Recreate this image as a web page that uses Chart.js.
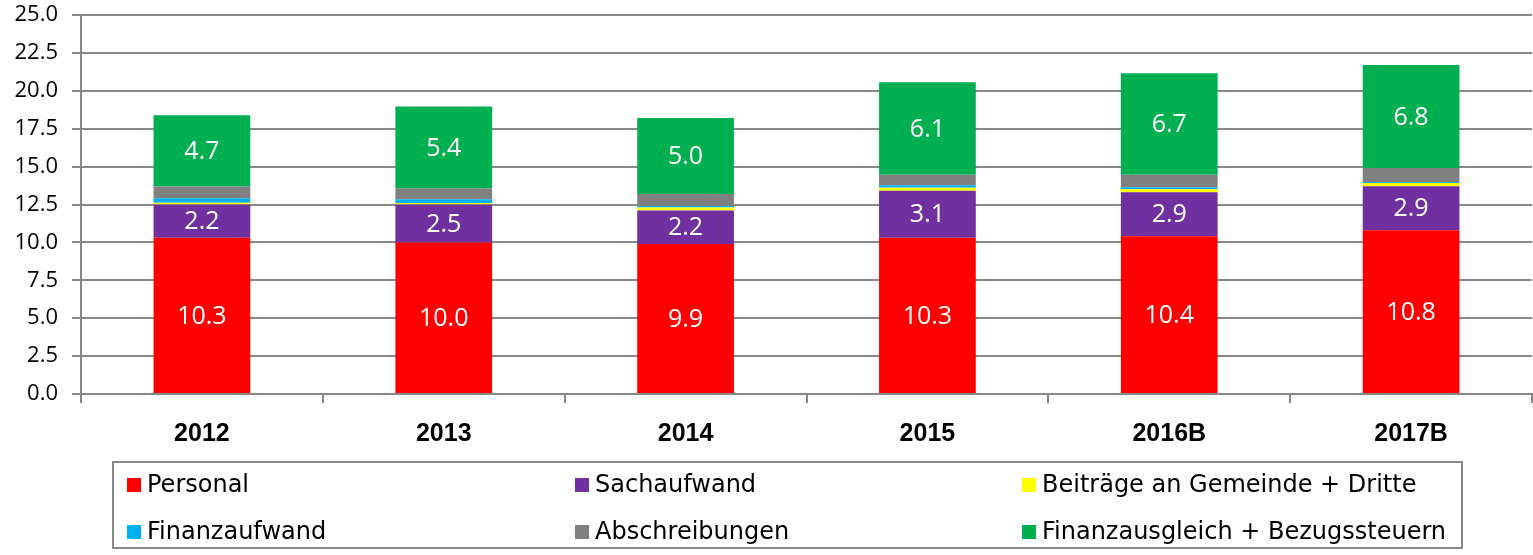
<!DOCTYPE html>
<html><head><meta charset="utf-8">
<script src="https://cdn.jsdelivr.net/npm/chart.js@4/dist/chart.umd.min.js"></script>
<style>html,body{margin:0;padding:0;background:#fff;}#wrap{width:1533px;height:555px;}</style>
</head><body><div id="wrap"><canvas id="c" width="1533" height="555"></canvas></div>
<script>
const categories = ['2012','2013','2014','2015','2016B','2017B'];
const personal = [10.3, 10.0, 9.9, 10.3, 10.4, 10.8];
const sachaufwand = [2.2, 2.5, 2.2, 3.1, 2.9, 2.9];
const beitraege = [0.12, 0.1, 0.2, 0.2, 0.2, 0.22];
const finanzaufwand = [0.3, 0.24, 0.1, 0.17, 0.13, 0.07];
const abschreibungen = [0.76, 0.72, 0.8, 0.7, 0.83, 0.92];
const finanzausgleich = [4.7, 5.4, 5.0, 6.1, 6.7, 6.8];
const yTicks = [0, 2.5, 5, 7.5, 10, 12.5, 15, 17.5, 20, 22.5, 25];
const seriesNames = ['Personal','Sachaufwand','Beiträge an Gemeinde + Dritte','Finanzaufwand','Abschreibungen','Finanzausgleich + Bezugssteuern'];
const seriesColors = ['#FF0000','#7030A0','#FFFF00','#00B0F0','#808080','#00B050'];
const labeled = [true, true, false, false, false, true];

const FONT = "'Open Sans', 'DejaVu Sans', sans-serif";
const LEGEND_FONT = "'DejaVu Sans', sans-serif";
const seriesData = [personal, sachaufwand, beitraege, finanzaufwand, abschreibungen, finanzausgleich];

const valueLabels = {
  id: 'valueLabels',
  afterDatasetsDraw(chart) {
    const ctx = chart.ctx;
    ctx.save();
    ctx.fillStyle = '#fff';
    ctx.font = '25px ' + FONT;
    ctx.textAlign = 'center';
    ctx.textBaseline = 'middle';
    chart.data.datasets.forEach((ds, i) => {
      if (!labeled[i]) return;
      const meta = chart.getDatasetMeta(i);
      meta.data.forEach((bar, j) => {
        const y = (bar.y + bar.base) / 2;
        ctx.fillText(ds.data[j].toFixed(1), bar.x, y + 1);
      });
    });
    ctx.restore();
  }
};

const gridLegend = {
  id: 'gridLegend',
  afterDraw(chart) {
    const ctx = chart.ctx;
    ctx.save();
    ctx.strokeStyle = '#888';
    ctx.lineWidth = 2;
    ctx.strokeRect(113, 462, 1349, 86);
    const cols = [127, 575, 1022];
    const rows = [485, 532];
    ctx.font = '24px ' + LEGEND_FONT;
    ctx.textBaseline = 'middle';
    ctx.textAlign = 'left';
    chart.data.datasets.forEach((ds, i) => {
      const x = cols[i % 3], y = rows[Math.floor(i / 3)];
      ctx.fillStyle = ds.backgroundColor;
      ctx.fillRect(x, y - 7, 14, 14);
      ctx.fillStyle = '#000';
      ctx.fillText(ds.label, x + 20, y + 1);
    });
    ctx.restore();
  }
};

new Chart(document.getElementById('c'), {
  type: 'bar',
  data: {
    labels: categories,
    datasets: seriesNames.map((n, i) => ({
      label: n,
      data: seriesData[i],
      backgroundColor: seriesColors[i],
      borderWidth: 0,
      categoryPercentage: 1,
      barPercentage: 0.4
    }))
  },
  options: {
    responsive: false,
    animation: false,
    layout: { padding: { top: 15, right: 1, left: 0, bottom: 0 } },
    plugins: { legend: { display: false }, tooltip: { enabled: false } },
    scales: {
      x: {
        stacked: true,
        grid: { drawOnChartArea: false, color: '#888', lineWidth: 2, tickLength: 9, offset: true },
        border: { color: '#888', width: 2 },
        ticks: { color: '#000', font: { family: "'Liberation Sans', Arial, sans-serif", size: 25, weight: 'bold' }, padding: 16 },
        afterFit(s) { s.height = 161; s.paddingLeft = 0; s.paddingRight = 0; }
      },
      y: {
        stacked: true,
        min: 0, max: 25,
        afterBuildTicks(s) { s.ticks = yTicks.map(v => ({ value: v })); },
        grid: { color: '#888', lineWidth: 2, tickLength: 9 },
        border: { color: '#888', width: 2 },
        ticks: { color: '#000', font: { family: FONT, size: 22 }, padding: 14, callback: v => Number(v).toFixed(1) },
        afterFit(s) { s.width = 81; s.paddingTop = 0; s.paddingBottom = 0; }
      }
    }
  },
  plugins: [valueLabels, gridLegend]
});
</script></body></html>
